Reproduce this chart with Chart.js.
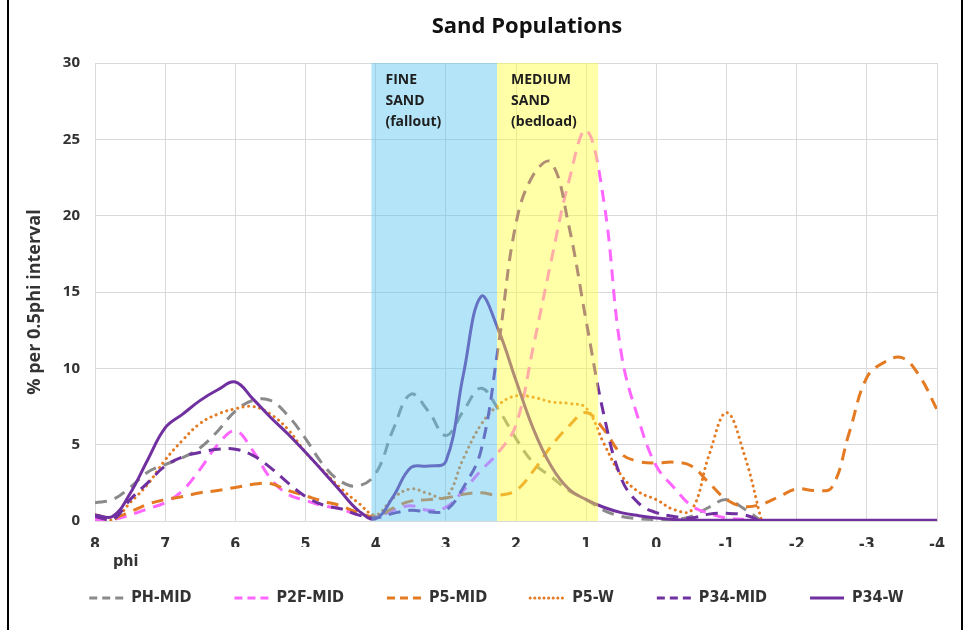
<!DOCTYPE html>
<html>
<head>
<meta charset="utf-8">
<title>Sand Populations</title>
<script src="https://cdn.jsdelivr.net/npm/chart.js@4.4.1/dist/chart.umd.min.js"></script>
<style>
  html, body { margin: 0; padding: 0; background: #fff; }
  #wrap { width: 968px; height: 630px; }
</style>
</head>
<body>
<div id="wrap"><canvas id="sandChart" width="968" height="630"></canvas></div>
<script>
/* ── Data ────────────────────────────────────────────────────────────────── */
const PHI = [
  8, 7.75, 7.5, 7.25, 7, 6.75, 6.5, 6.25, 6, 5.75, 5.5, 5.25, 5,
  4.75, 4.5, 4.25, 4, 3.75, 3.5, 3.25, 3, 2.75, 2.5, 2.25, 2,
  1.75, 1.5, 1.25, 1, 0.75, 0.5, 0.25, 0, -0.25, -0.5, -0.75, -1,
  -1.25, -1.5, -1.75, -2, -2.25, -2.5, -2.75, -3, -3.25, -3.5, -3.75, -4
];

const PH_MID = [
  1.2, 1.4, 2.2, 3.2, 3.7, 4.15, 4.8, 5.9, 7.2, 7.9, 7.9, 6.9, 5.4,
  3.7, 2.6, 2.3, 3.1, 6.0, 8.3, 7.2, 5.6, 7.2, 8.7, 7.3, 5.4,
  3.8, 2.9, 2.0, 1.4, 0.7, 0.3, 0.15, 0.1, 0.1, 0.3, 0.9, 1.4,
  0.8, 0.0
];
const P2F_MID = [
  0.1, 0.1, 0.4, 0.8, 1.2, 2.0, 3.4, 5.0, 5.9, 4.6, 2.8, 1.75, 1.35,
  1.0, 0.8, 0.4, 0.25, 0.7, 1.0, 0.7, 0.9, 2.0, 3.3, 4.5, 6.3,
  11.5, 17.0, 22.2, 25.6, 21.0, 11.0, 6.6, 3.6, 2.2, 1.0, 0.5, 0.2,
  0.1
];
const P5_MID = [
  0.4, 0.2, 0.6, 1.1, 1.4, 1.6, 1.85, 2.0, 2.2, 2.4, 2.45, 2.0, 1.65,
  1.3, 1.0, 0.55, 0.3, 0.85, 1.3, 1.4, 1.5, 1.75, 1.85, 1.7, 2.0,
  3.3, 4.9, 6.2, 7.1, 6.0, 4.4, 3.9, 3.8, 3.85, 3.6, 2.5, 1.4,
  0.95, 1.1, 1.6, 2.1, 2.0, 2.2, 5.8, 9.4, 10.4, 10.7, 9.5, 7.3
];
const P5_W = [
  0.4, 0.05, 1.2, 2.4, 4.0, 5.3, 6.4, 7.0, 7.35, 7.5, 7.0, 6.0, 4.5,
  3.3, 2.15, 1.2, 0.4, 1.5, 2.1, 1.8, 1.55, 4.1, 6.3, 7.6, 8.2,
  8.1, 7.8, 7.7, 7.4, 5.1, 3.0, 1.9, 1.4, 0.75, 0.7, 4.3, 7.1,
  4.4, 0.0
];
const P34_MID = [
  0.3, 0.1, 1.4, 2.5, 3.6, 4.2, 4.5, 4.7, 4.7, 4.3, 3.5, 2.5, 1.6,
  1.05, 0.8, 0.4, 0.2, 0.5, 0.7, 0.6, 0.7, 2.2, 4.6, 11.5, 19.5,
  22.7, 23.5, 19.4, 13.1, 7.0, 2.8, 1.15, 0.55, 0.3, 0.2, 0.45, 0.5,
  0.4, 0.0
];
const P34_W = [
  0.4, 0.3, 1.8, 4.0, 6.1, 7.0, 7.9, 8.6, 9.1, 8.0, 6.8, 5.7, 4.5,
  3.25, 1.95, 0.7, 0.15, 1.6, 3.5, 3.6, 3.9, 9.6, 14.7, 12.5, 9.2,
  6.0, 3.6, 2.1, 1.4, 0.9, 0.55, 0.35, 0.2, 0.1, 0.05, 0.05, 0.05,
  0.05, 0.05, 0.05, 0.05, 0.05, 0.05, 0.05, 0.05, 0.05, 0.05, 0.05, 0.05
];

const Y_TICKS = [0, 5, 10, 15, 20, 25, 30];

// sediment bands, in phi units
const FINE_SAND   = [4.06, 2.27];
const MEDIUM_SAND = [2.27, 0.83];
const FINE_TEXT   = ['FINE', 'SAND', '(fallout)'];
const MEDIUM_TEXT = ['MEDIUM', 'SAND', '(bedload)'];

/* ── Styles ──────────────────────────────────────────────────────────────── */
const SANS   = '"Open Sans", "Noto Sans", sans-serif';
const NARROW = '"Liberation Sans Narrow", "DejaVu Sans Condensed", "Arial Narrow", sans-serif';
const GRID   = '#d9d9d9';
const INK    = '#333333';
const ORANGE = '#e47a22';
const PURPLE = '#7030a0';

/* ── Plugins ─────────────────────────────────────────────────────────────── */
const frame = {
  id: 'frame',
  afterLayout(chart) {
    // the legend row sits a little right of the canvas centre in the original
    chart.legend.left += 28;
    chart.legend.right += 28;
  },
  beforeDraw(chart) {
    const { ctx, width, height } = chart;
    ctx.save();
    ctx.fillStyle = '#fff';
    ctx.fillRect(0, 0, width, height);
    ctx.fillStyle = '#000';
    ctx.fillRect(7, 0, 2, height);
    ctx.fillRect(961, 0, 2, height);
    ctx.font = `bold 22px ${SANS}`;
    ctx.fillStyle = '#111';
    ctx.textAlign = 'center';
    ctx.textBaseline = 'middle';
    ctx.fillText('Sand Populations', 527, 27);
    ctx.restore();
  },
  afterDraw(chart) {
    const { ctx, chartArea } = chart;
    ctx.save();
    ctx.fillStyle = INK;
    ctx.textBaseline = 'middle';
    ctx.font = `bold 16px ${NARROW}`;
    ctx.fillText('phi', chartArea.left + 18, 562);
    // y-axis title, a bit below the plot's mid-height as in the original
    ctx.translate(35, 302);
    ctx.rotate(-Math.PI / 2);
    ctx.textAlign = 'center';
    ctx.font = `bold 18px ${SANS}`;
    ctx.fillText('% per 0.5phi interval', 0, 0);
    ctx.restore();
  }
};

/** Translucent sand bands laid over the lines, with their captions */
const bands = {
  id: 'bands',
  afterDatasetsDraw(chart) {
    const { ctx, chartArea: a, scales: { x } } = chart;
    const draw = (limits, fill, lines) => {
      const x0 = x.getPixelForValue(limits[0]);
      const x1 = x.getPixelForValue(limits[1]);
      ctx.fillStyle = fill;
      ctx.fillRect(x0, a.top, x1 - x0, a.bottom - a.top);
      ctx.fillStyle = '#1e1e1e';
      lines.forEach((t, i) => ctx.fillText(t, x0 + 14, a.top + 17 + i * 21));
    };
    ctx.save();
    ctx.font = `bold 14px ${SANS}`;
    ctx.textBaseline = 'middle';
    draw(FINE_SAND, 'rgba(89, 195, 240, 0.45)', FINE_TEXT);
    draw(MEDIUM_SAND, 'rgba(255, 255, 60, 0.45)', MEDIUM_TEXT);
    ctx.restore();
  }
};

/* ── Chart ───────────────────────────────────────────────────────────────── */
const dashed = (label, data, color, order) => ({
  label, data, order,
  borderColor: color, backgroundColor: color,
  borderWidth: 3, borderDash: [12, 8], legendDash: [8, 5]
});

/** Legend samples drawn as short lines carrying each series' dash pattern */
function legendLabels(chart) {
  return Chart.defaults.plugins.legend.labels.generateLabels(chart).map(item => {
    const ds = chart.data.datasets[item.datasetIndex];
    return {
      ...item,
      strokeStyle: ds.borderColor,
      lineWidth: ds.borderWidth,
      lineDash: ds.legendDash || [],
      lineCap: ds.borderCapStyle || 'butt'
    };
  });
}

new Chart(document.getElementById('sandChart'), {
  type: 'line',
  data: {
    labels: PHI,
    datasets: [
      dashed('PH-MID', PH_MID, '#8a8a8a', 5),
      dashed('P2F-MID', P2F_MID, '#ff66ff', 4),
      dashed('P5-MID', P5_MID, ORANGE, 3),
      {
        label: 'P5-W', data: P5_W, order: 2,
        borderColor: ORANGE, backgroundColor: ORANGE,
        borderWidth: 3, borderDash: [0.1, 5.5], borderCapStyle: 'round', legendDash: [0.1, 4.5]
      },
      dashed('P34-MID', P34_MID, PURPLE, 1),
      { label: 'P34-W', data: P34_W, order: 0, borderColor: PURPLE, backgroundColor: PURPLE, borderWidth: 3 }
    ]
  },
  options: {
    responsive: false,
    animation: false,
    devicePixelRatio: 1,
    layout: { padding: { top: 63, right: 31, bottom: 14, left: 0 } },
    elements: {
      point: { radius: 0 },
      line: { tension: 0.4, fill: false }
    },
    plugins: {
      title: { display: false },
      tooltip: { enabled: false },
      legend: {
        position: 'bottom',
        labels: {
          usePointStyle: true,
          pointStyle: 'line',
          pointStyleWidth: 34,
          padding: 43,
          color: INK,
          generateLabels: legendLabels,
          sort: (a, b) => a.datasetIndex - b.datasetIndex,
          font: { family: NARROW, size: 16, weight: 'bold' }
        }
      }
    },
    scales: {
      x: {
        type: 'linear',
        reverse: true,
        min: -4,
        max: 8,
        ticks: { stepSize: 1, padding: 14, color: INK, font: { family: NARROW, size: 16, weight: 'bold' } },
        grid: { color: GRID, drawTicks: false },
        border: { color: GRID },
        afterFit: s => { s.height = 26; }
      },
      y: {
        min: 0,
        max: 30,
        afterBuildTicks: s => { s.ticks = Y_TICKS.map(v => ({ value: v })); },
        ticks: { padding: 15, color: INK, font: { family: SANS, size: 15, weight: 'bold' } },
        grid: { color: GRID, drawTicks: false },
        border: { color: GRID },
        afterFit: s => { s.width = 95; }
      }
    }
  },
  plugins: [frame, bands]
});
</script>
</body>
</html>
